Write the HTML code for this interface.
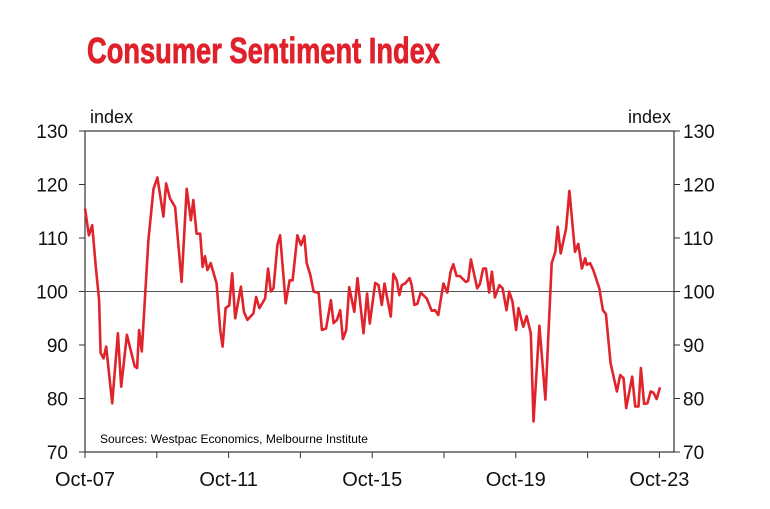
<!DOCTYPE html>
<html><head><meta charset="utf-8"><style>
html,body{margin:0;padding:0;background:#fff;}
svg{display:block;font-family:"Liberation Sans",sans-serif;}
</style></head><body>
<svg id="chart" width="770" height="509" viewBox="0 0 770 509">
<text x="87" y="63" font-family="Liberation Sans Narrow, Liberation Sans, sans-serif" font-weight="bold" font-size="36" fill="#e0202a" stroke="#e0202a" stroke-width="0.8" textLength="353" lengthAdjust="spacingAndGlyphs">Consumer Sentiment Index</text>
<g id="axes"></g>
<path id="line" fill="none" stroke="#e0242c" stroke-width="2.6" stroke-linejoin="round"></path>
<text x="100" y="443" font-size="12" fill="#000">Sources: Westpac Economics, Melbourne Institute</text>
<text x="90" y="123" font-size="18" fill="#111">index</text>
<text x="671" y="123" font-size="18" fill="#111" text-anchor="end">index</text>
</svg>
<script>
const months=[0,1.3,2.4,3.6,4.7,5.2,6.2,7.1,9.1,11,12.1,14,16.6,17.4,18.1,19,21.2,22.9,24.2,26.2,27.1,28.4,30.1,32.3,34,35.4,36.2,37.3,38.5,39.3,40.1,40.9,42,44,45.2,46,47,48.2,49.2,50.2,52.1,53.1,54.3,56.3,57.2,58.3,60.2,61.2,62.1,63,64.3,65.2,67.1,68.4,69.4,71,72.2,73.3,74.1,75.3,76.4,78.1,79.2,80.6,82.2,83.1,84.2,85.3,86.2,87.3,88.3,90,91.1,93.1,94.3,95.2,97,98.1,99.2,100.1,102.2,103.1,104.2,105.1,105.9,107,108.5,109.2,110.1,111.1,112.2,114.2,115.9,117,118.1,119.8,121.1,122.2,123.1,124.2,125.3,127.3,128.1,129,131.1,132,133.1,134,135.1,136,137,138.5,139.6,140.9,141.8,142.9,144.1,144.9,146.5,147.6,149,149.9,151.9,153.9,156,157.2,158,159,160.8,161.9,163.8,164.9,166.1,167.2,167.7,168.8,169.9,171.9,173.1,174.1,175.7,177.8,178.9,180,180.9,182.9,183.9,185,185.8,186.9,188,189.1,190,191.1,192.2];
const values=[115.5,110.5,112.4,104.6,98.4,88.5,87.5,89.7,79.1,92.2,82.2,91.9,86,85.7,92.8,88.8,109.6,119.2,121.3,114,120.2,117.4,115.8,101.8,119.2,113.3,117.1,110.8,110.8,104.6,106.6,104,105.3,101.5,92.8,89.7,96.9,97.4,103.4,95,100.9,96.2,94.7,95.9,99,96.9,98.7,104.3,100,100.6,108.7,110.5,97.8,102.1,102.1,110.5,108.7,110.4,105.3,103.1,100,99.7,92.8,93.1,98.4,94.1,94.7,96.5,91.1,92.8,100.8,96.2,102.5,92.2,99.6,94,101.6,101.2,97.5,101.5,95.3,103.3,102.1,99.3,101.2,101.5,102.5,101.2,97.5,97.7,99.8,98.7,96.4,96.5,95.6,101.5,99.8,103.7,105.1,102.9,102.9,101.8,102,106,100.6,101.4,104.3,104.3,99.8,103.7,98.9,101.2,100.6,96.5,100,98.1,92.8,96.9,93.4,95.4,92.2,75.7,93.6,79.8,105.3,107.4,112.1,107.1,111.8,118.8,107.4,108.9,104.3,106.2,105,105.3,104,100.6,96.5,95.8,86.6,81.3,84.4,83.8,78.2,84.1,78.5,78.5,85.7,79,79.1,81.3,81.1,79.9,82.1];
const yTicks=[70,80,90,100,110,120,130];
const xTickLabels=["Oct-07","Oct-11","Oct-15","Oct-19","Oct-23"];
const xTickLabelMonths=[0,48,96,144,192];
const xTickMonths=[0,24,48,72,96,120,144,168,192];
const L=85,R=674,T=131,B=452,X0=85,XM=2.9917;
const x=m=>X0+m*XM;
const y=v=>B-(v-70)*(B-T)/60;
const ns="http://www.w3.org/2000/svg";
const g=document.getElementById('axes');
function mk(tag,attrs,parent){const e=document.createElementNS(ns,tag);for(const k in attrs)e.setAttribute(k,attrs[k]);(parent||g).appendChild(e);return e;}
const frame=mk('rect',{x:L,y:T,width:R-L,height:B-T,fill:'none',stroke:'#333','stroke-width':1.2});


const ref=mk('line',{x1:L,x2:R,y1:y(100),y2:y(100),stroke:'#555','stroke-width':1});


yTicks.forEach(v=>{
  mk('line',{x1:L-6,x2:L,y1:y(v),y2:y(v),stroke:'#333'});
  mk('line',{x1:R,x2:R+6,y1:y(v),y2:y(v),stroke:'#333'});
  const t1=mk('text',{x:68,y:y(v)+7,'font-size':19,'text-anchor':'end',fill:'#111'});t1.textContent=v;
  
  
  const t2=mk('text',{x:683,y:y(v)+7,'font-size':19,fill:'#111'});t2.textContent=v;
  
  
});
xTickMonths.forEach(m=>{mk('line',{x1:x(m),x2:x(m),y1:B,y2:B+6,stroke:'#333'});});
xTickLabels.forEach((s,i)=>{
  const t=mk('text',{x:x(xTickLabelMonths[i]),y:486,'font-size':20,'text-anchor':'middle',fill:'#111'});t.textContent=s;
  
  
});
document.getElementById('line').setAttribute('d',months.map((m,i)=>(i?'L':'M')+x(m).toFixed(1)+' '+y(values[i]).toFixed(1)).join(' '));
</script>
</body></html>
